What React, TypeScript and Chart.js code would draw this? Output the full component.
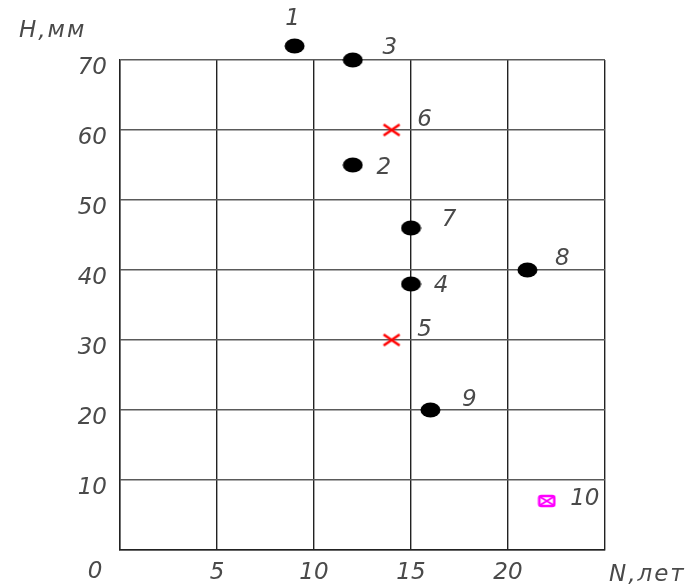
import React, { useEffect, useRef } from 'react';
import { Chart, registerables } from 'chart.js';
Chart.register(...registerables);

// ---- data ----
const roundIds = ['1', '2', '3', '4', '7', '8', '9'];
const roundN = [9, 12, 12, 15, 15, 21, 16];
const roundH = [72, 55, 70, 38, 46, 40, 20];

const crossIds = ['5', '6'];
const crossN = [14, 14];
const crossH = [30, 60];

const specialIds = ['10'];
const specialN = [22];
const specialH = [7];

const xMin = 0;
const xMax = 25;
const xStep = 5;
const yMin = 0;
const yMax = 70;
const yStep = 10;

const xTitle = 'N,лет';
const yTitle = 'H,мм';
const originLabel = '0';

// ---- style ----
const FAMILY = "'DejaVu Sans', 'Liberation Sans', sans-serif";
const FONT = `italic 23px ${FAMILY}`;
const TEXT_COLOR = '#4a4a4a';
const labelOffsets: Record<string, [number, number]> = {
  '1': [-2, -27],
  '2': [31, 3],
  '3': [37, -12],
  '4': [30, 2],
  '5': [33, -10],
  '6': [33, -10],
  '7': [38, -8],
  '8': [35, -11],
  '9': [39, -10],
  '10': [38, -2],
};

function makeEllipse(): HTMLCanvasElement {
  const c = document.createElement('canvas');
  c.width = 21; c.height = 16;
  const g = c.getContext('2d')!;
  g.fillStyle = '#000';
  g.beginPath();
  g.ellipse(10.5, 8, 10, 7.5, 0, 0, Math.PI * 2);
  g.fill();
  return c;
}
function makeCross(): HTMLCanvasElement {
  const c = document.createElement('canvas');
  c.width = 20; c.height = 15;
  const g = c.getContext('2d')!;
  g.strokeStyle = '#ff0000';
  g.lineWidth = 2.6;
  g.beginPath();
  g.moveTo(2, 2); g.lineTo(18, 13);
  g.moveTo(18, 2); g.lineTo(2, 13);
  g.stroke();
  return c;
}
function makeSpecial(): HTMLCanvasElement {
  const c = document.createElement('canvas');
  c.width = 19; c.height = 14;
  const g = c.getContext('2d')!;
  g.strokeStyle = '#ff00ff';
  g.lineWidth = 2.6;
  g.beginPath();
  (g as any).roundRect(2, 2, 15, 10, 2);
  g.stroke();
  g.lineWidth = 2;
  g.beginPath();
  g.moveTo(3, 3); g.lineTo(16, 11);
  g.moveTo(16, 3); g.lineTo(3, 11);
  g.stroke();
  return c;
}

const labelPlugin = {
  id: 'pointLabels',
  afterDatasetsDraw(chart: any) {
    const ctx = chart.ctx;
    const full = { left: 0, top: 0, right: chart.width, bottom: chart.height };
    const area = chart.chartArea;
    // draw markers lying outside the plot area (library skips them)
    chart.data.datasets.forEach((_ds: any, i: number) => {
      const meta = chart.getDatasetMeta(i);
      meta.data.forEach((el: any) => {
        if (el.y < area.top || el.y > area.bottom || el.x < area.left || el.x > area.right) {
          el.draw(ctx, full);
        }
      });
    });
    ctx.save();
    ctx.font = FONT;
    ctx.fillStyle = TEXT_COLOR;
    ctx.textAlign = 'center';
    ctx.textBaseline = 'middle';
    chart.data.datasets.forEach((ds: any, i: number) => {
      const meta = chart.getDatasetMeta(i);
      meta.data.forEach((el: any, j: number) => {
        const id = ds.ids[j];
        const off = labelOffsets[id] || [30, 0];
        ctx.fillText(id, el.x + off[0], el.y + off[1]);
      });
    });
    const xs = chart.scales.x;
    const ys = chart.scales.y;
    ctx.fillText(originLabel, xs.getPixelForValue(xMin) - 25, ys.getPixelForValue(yMin) + 22);
    ctx.textAlign = 'left';
    (ctx as any).letterSpacing = '2px';
    ctx.fillText(xTitle, xs.getPixelForValue(xMax) + 4, ys.getPixelForValue(yMin) + 25);
    ctx.fillText(yTitle, 19, 31);
    ctx.restore();
  },
};

export default function App() {
  const ref = useRef<HTMLCanvasElement>(null);
  useEffect(() => {
    document.body.style.margin = '0';
    const ellipse = makeEllipse();
    const cross = makeCross();
    const special = makeSpecial();
    const toPts = (xs: number[], ys: number[]) => xs.map((x, i) => ({ x, y: ys[i] }));
    const tickFont = { family: FAMILY, size: 23, style: 'italic' };
    const chart = new Chart(ref.current!, {
      type: 'scatter',
      data: {
        datasets: [
          { data: toPts(roundN, roundH), ids: roundIds, pointStyle: ellipse, clip: false } as any,
          { data: toPts(crossN, crossH), ids: crossIds, pointStyle: cross, clip: false } as any,
          { data: toPts(specialN, specialH), ids: specialIds, pointStyle: special, clip: false } as any,
        ],
      },
      options: {
        animation: false,
        responsive: false,
        layout: { padding: { top: 60, right: 92, left: 0, bottom: 0 } },
        plugins: { legend: { display: false }, tooltip: { enabled: false } },
        scales: {
          x: {
            type: 'linear',
            min: xMin,
            max: xMax,
            afterFit: (s: any) => { s.height = 38; },
            ticks: {
              stepSize: xStep,
              padding: 9,
              color: TEXT_COLOR,
              font: tickFont,
              callback: (v: any) => (v === xMin || v === xMax ? '' : String(v)),
              maxRotation: 0,
            },
            grid: { color: '#222', lineWidth: 1.4, drawTicks: false },
            border: { color: '#222', width: 1.4 },
          },
          y: {
            type: 'linear',
            min: yMin,
            max: yMax,
            afterFit: (s: any) => { s.width = 120; },
            ticks: {
              stepSize: yStep,
              padding: 13,
              labelOffset: 8,
              color: TEXT_COLOR,
              font: tickFont,
              callback: (v: any) => (v === yMin ? '' : String(v)),
            },
            grid: { color: '#5a5a5a', lineWidth: 1.4, drawTicks: false },
            border: { color: '#222', width: 1.4 },
          },
        },
      } as any,
      plugins: [labelPlugin],
    });
    return () => chart.destroy();
  }, []);
  return (
    <div style={{ position: 'absolute', left: 0, top: 0, width: 697, height: 588, background: '#fff' }}>
      <canvas ref={ref} width={697} height={588} />
    </div>
  );
}
